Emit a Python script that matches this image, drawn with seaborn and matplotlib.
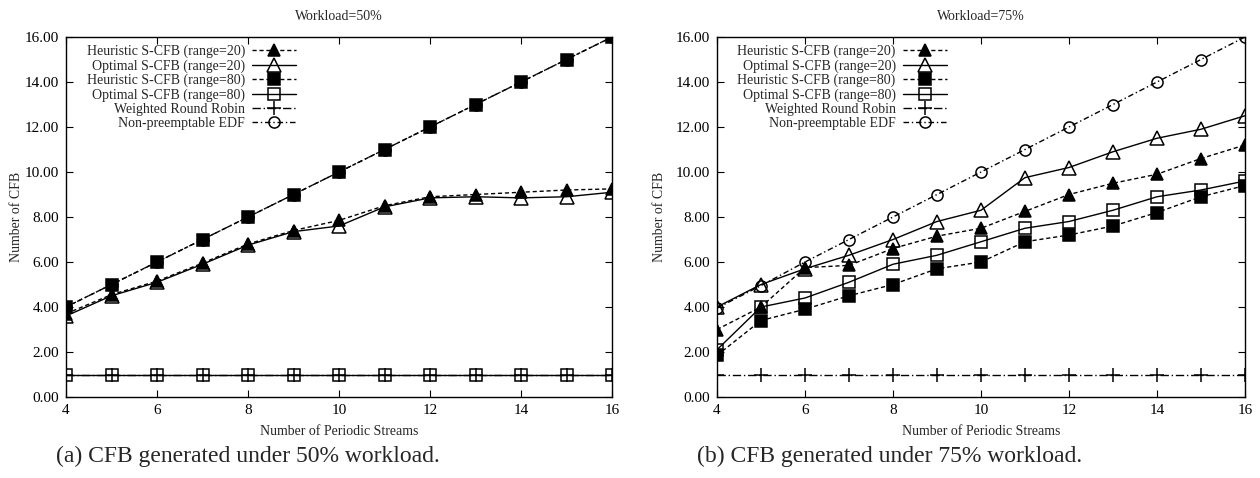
import numpy as np
import pandas as pd
import matplotlib
matplotlib.use("Agg")
import matplotlib.pyplot as plt
import seaborn as sns

# ---------------- data ----------------
streams = [4, 5, 6, 7, 8, 9, 10, 11, 12, 13, 14, 15, 16]

series_names = [
    "Heuristic S-CFB (range=20)",
    "Optimal S-CFB (range=20)",
    "Heuristic S-CFB (range=80)",
    "Optimal S-CFB (range=80)",
    "Weighted Round Robin",
    "Non-preemptable EDF",
]

# Workload = 50%
w50_heur20 = [3.70, 4.55, 5.15, 5.95, 6.80, 7.40, 7.85, 8.50, 8.90, 9.00, 9.10, 9.20, 9.25]
w50_opt20 = [3.60, 4.50, 5.10, 5.90, 6.75, 7.35, 7.60, 8.45, 8.85, 8.90, 8.85, 8.90, 9.10]
w50_heur80 = [4, 5, 6, 7, 8, 9, 10, 11, 12, 13, 14, 15, 16]
w50_opt80 = [1, 1, 1, 1, 1, 1, 1, 1, 1, 1, 1, 1, 1]
w50_wrr = [1, 1, 1, 1, 1, 1, 1, 1, 1, 1, 1, 1, 1]
w50_edf = [4, 5, 6, 7, 8, 9, 10, 11, 12, 13, 14, 15, 16]

# Workload = 75%
w75_heur20 = [3.00, 4.00, 5.75, 5.85, 6.60, 7.15, 7.50, 8.25, 9.00, 9.50, 9.90, 10.60, 11.20]
w75_opt20 = [4.00, 5.00, 5.70, 6.30, 7.00, 7.80, 8.30, 9.75, 10.20, 10.90, 11.50, 11.90, 12.50]
w75_heur80 = [1.85, 3.40, 3.90, 4.50, 5.00, 5.70, 6.00, 6.90, 7.20, 7.60, 8.20, 8.90, 9.40]
w75_opt80 = [2.10, 4.00, 4.40, 5.10, 5.90, 6.30, 6.90, 7.50, 7.80, 8.30, 8.90, 9.20, 9.60]
w75_wrr = [1, 1, 1, 1, 1, 1, 1, 1, 1, 1, 1, 1, 1]
w75_edf = [3.95, 4.95, 6.00, 7.00, 8.00, 9.00, 10.00, 11.00, 12.00, 13.00, 14.00, 15.00, 16.00]

titles = ["Workload=50%", "Workload=75%"]
captions = ["(a) CFB generated under 50% workload.", "(b) CFB generated under 75% workload."]
x_ticks = [4, 6, 8, 10, 12, 14, 16]
y_ticks = [0, 2, 4, 6, 8, 10, 12, 14, 16]

panels = [
    [w50_heur20, w50_opt20, w50_heur80, w50_opt80, w50_wrr, w50_edf],
    [w75_heur20, w75_opt20, w75_heur80, w75_opt80, w75_wrr, w75_edf],
]

# ---------------- style ----------------
sns.set_theme(style="ticks")
plt.rcParams["font.family"] = ["Liberation Serif", "DejaVu Serif"]

styles = [
    dict(marker="^", linestyle=(0, (3, 2)), markerfacecolor="black", markersize=9, zorder=4),
    dict(marker="^", linestyle="-", markerfacecolor="none", markersize=10, zorder=3),
    dict(marker="s", linestyle=(0, (3, 2)), markerfacecolor="black", markersize=8, zorder=4),
    dict(marker="s", linestyle="-", markerfacecolor="none", markersize=8, zorder=3),
    dict(marker="+", linestyle=(0, (6, 2, 1, 2)), markerfacecolor="black", markersize=10, zorder=2),
    dict(marker="o", linestyle=(0, (4, 2, 1, 2)), markerfacecolor="none", markersize=8, zorder=1),
]

W, H = 1260, 478
fig = plt.figure(figsize=(W / 100, H / 100), dpi=100)

axes_px = [(66, 612), (717, 1245)]
top_px, bot_px = 37, 397
ylabel_pads = [1, 7]
caption_cx = [248, 890]

for i, (x0, x1) in enumerate(axes_px):
    ax = fig.add_axes([x0 / W, 1 - bot_px / H, (x1 - x0) / W, (bot_px - top_px) / H])
    for name, vals, st in zip(series_names, panels[i], styles):
        df = pd.DataFrame({"streams": streams, "cfb": vals})
        sns.lineplot(data=df, x="streams", y="cfb", ax=ax, color="black",
                     linewidth=1.0, markeredgecolor="black", markeredgewidth=1.1,
                     label=name, **st)
    ax.set_xlim(4, 16)
    ax.set_ylim(0, 16)
    ax.set_xticks(x_ticks)
    ax.set_yticks(y_ticks)
    ax.set_yticklabels([f"{v:.2f}" for v in y_ticks])
    ax.tick_params(direction="in", length=5, width=0.8, top=True, right=True,
                   labelsize=11, colors="black", pad=5)
    for sp in ax.spines.values():
        sp.set_visible(True)
        sp.set_linewidth(1.0)
        sp.set_color("black")
    ax.set_xlabel("Number of Periodic Streams", fontsize=10, labelpad=6)
    ax.set_ylabel("Number of CFB", fontsize=10, labelpad=ylabel_pads[i])
    ax.set_title(titles[i], fontsize=10, pad=12)
    leg = ax.legend(loc="upper left", bbox_to_anchor=(0.02, 1.006), frameon=False,
                    markerfirst=False, handlelength=3.2, handletextpad=0.5,
                    labelspacing=0.08, fontsize=10, borderaxespad=0.3)
    try:
        for col in leg._legend_box._children[-1]._children:
            col.align = "right"
    except Exception:
        pass
    fig.text(caption_cx[i] / W, 1 - 456 / H, captions[i], ha="center", va="center", fontsize=17)

fig.savefig("out.png", dpi=100)
